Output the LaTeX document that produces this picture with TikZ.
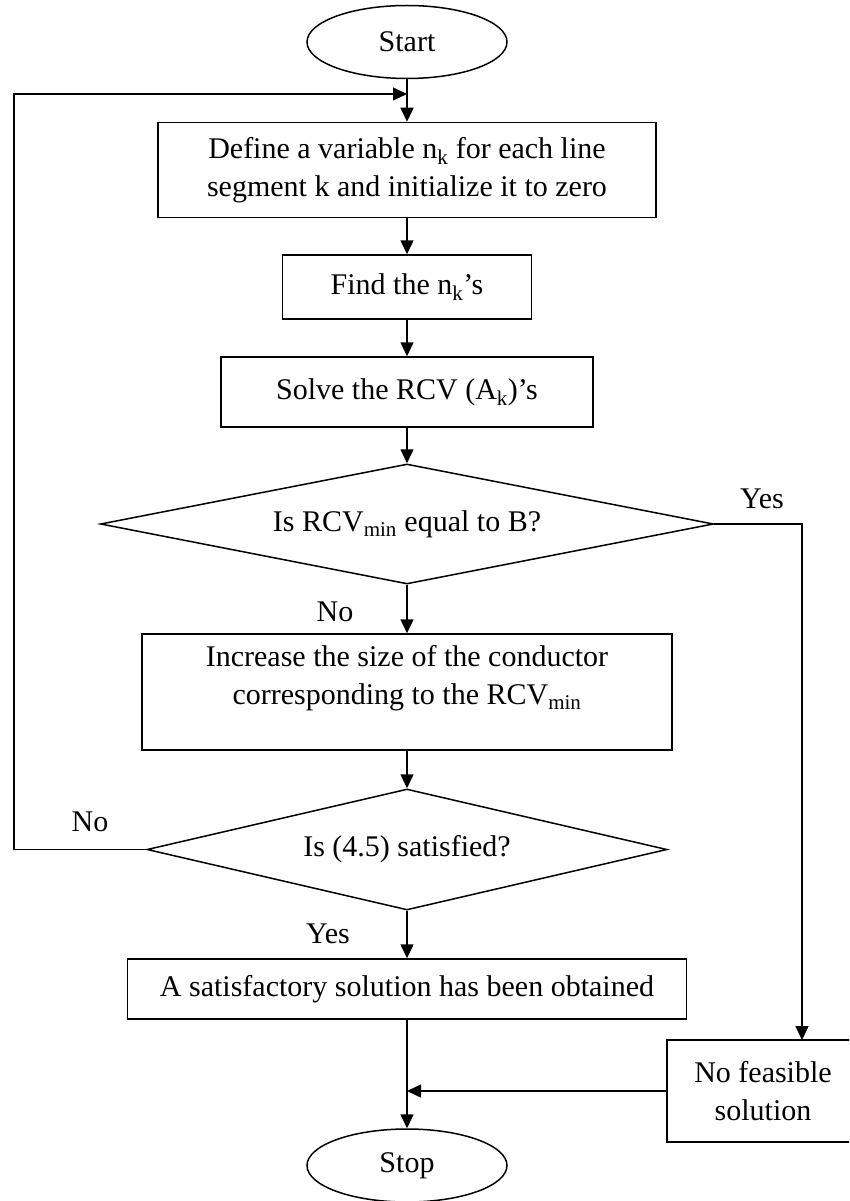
\documentclass[tikz,border=0pt]{standalone}
\usepackage{fontspec}
\setmainfont{Liberation Serif}
\usetikzlibrary{shapes.geometric,arrows.meta}
\tikzset{
  base/.style={font=\fontsize{30}{38.5}\selectfont, inner sep=0pt, align=center},
  boxnode/.style={base, draw, rectangle, line width=1.5pt},
  termnode/.style={base, draw, ellipse, line width=1.5pt, minimum width=200, minimum height=73},
  decnode/.style={base, draw, diamond, line width=1.5pt},
  lbl/.style={base},
  conn/.style={line width=1.5pt, -{Triangle[length=14pt,width=13pt]}},
  plain/.style={line width=1.5pt}
}
\begin{document}
\begin{tikzpicture}[x=1pt,y=-1pt]
\useasboundingbox (0,0) rectangle (849,1201);
\clip (0,0) rectangle (849,1201);

\node[termnode] (start) at (407,42) {Start};
\node[boxnode, minimum width=498, minimum height=95] (b1) at (407,170) {Define a variable n\textsubscript{k} for each line\\segment k and initialize it to zero};
\node[boxnode, minimum width=249, minimum height=64] (b2) at (407,287) {Find the n\textsubscript{k}’s};
\node[boxnode, minimum width=372, minimum height=70] (b3) at (407,392) {Solve the RCV (A\textsubscript{k})’s};
\node[decnode, minimum width=613, minimum height=120, aspect=5.1] (d1) at (407,524) {Is RCV\textsubscript{min} equal to B?};
\node[boxnode, minimum width=530, minimum height=116] (b4) at (407,692) {};
\node[lbl] (b4t) at (407,678) {Increase the size of the conductor\\corresponding to the RCV\textsubscript{min}};
\node[decnode, minimum width=520, minimum height=121, aspect=4.3] (d2) at (407,849.5) {Is (4.5) satisfied?};
\node[boxnode, minimum width=559, minimum height=60] (b5) at (407,989) {A satisfactory solution has been obtained};
\node[boxnode, minimum width=192, minimum height=102] (nf) at (763,1091) {No feasible\\solution};
\node[termnode] (stop) at (407,1165.5) {Stop};

\coordinate (join) at (407,94);
\coordinate (loopc) at (14,94);
\coordinate (nfin) at (802,1040);
\coordinate (merge) at (407,1091);

\draw[conn] (start.south) -- (b1.north);
\draw[conn] (b1.south) -- (b2.north);
\draw[conn] (b2.south) -- (b3.north);
\draw[conn] (b3.south) -- (d1.north);
\draw[conn] (d1.south) -- (b4.north);
\draw[conn] (b4.south) -- (d2.north);
\draw[conn] (d2.south) -- (b5.north);
\draw[conn] (b5.south) -- (stop.north);
\draw[conn] (d2.west) -| (loopc) -- (join);
\draw[conn] (d1.east) -| (nfin);
\draw[conn] (nf.west) -- (merge);

\node[lbl] (yes1) at (762,499) {Yes};
\node[lbl] (no1) at (335,612) {No};
\node[lbl] (no2) at (90,822) {No};
\node[lbl] (yes2) at (328,934) {Yes};
\end{tikzpicture}
\end{document}
